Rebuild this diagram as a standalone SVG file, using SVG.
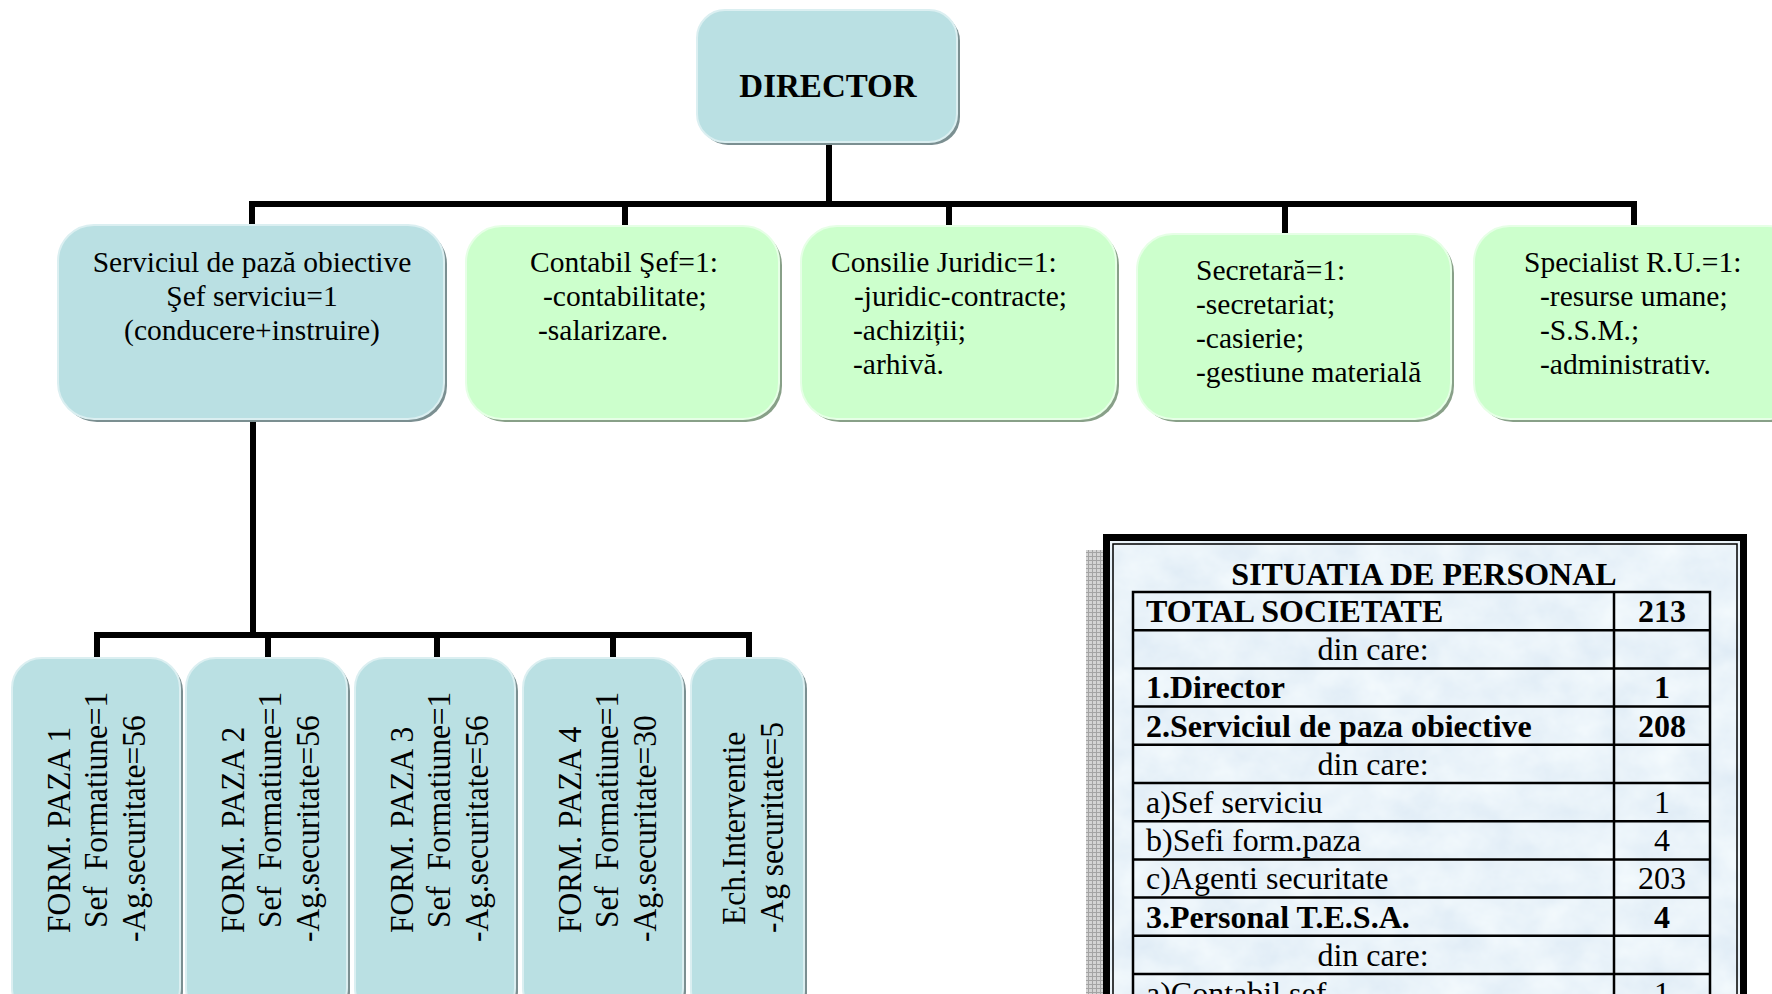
<svg xmlns="http://www.w3.org/2000/svg" width="1772" height="994" viewBox="0 0 1772 994">
<style>
.b{fill:#BAE0E3;stroke:#dbeff1;stroke-width:2}
.g{fill:#CCFFCC;stroke:#e6ffe6;stroke-width:2}
.sb{fill:#7b8f91}
.sg{fill:#88a088}
.t{font-family:"Liberation Serif","Times New Roman",serif;font-size:29.5px;fill:#000}
.v{font-family:"Liberation Serif","Times New Roman",serif;font-size:31.5px;fill:#000}
.tb{font-family:"Liberation Serif","Times New Roman",serif;font-size:32px;fill:#000}
.bd{font-weight:bold}
.m{text-anchor:middle}
.c{stroke:#000;stroke-width:6;fill:none;stroke-linejoin:miter}
.grid{stroke:#000;stroke-width:2.5;fill:none}
</style>
<defs>
<filter id="marble" x="0" y="0" width="100%" height="100%">
<feTurbulence type="fractalNoise" baseFrequency="0.025 0.03" numOctaves="4" seed="7"/>
<feColorMatrix type="matrix" values="0.2 0 0 0 0.72  0.15 0 0 0 0.82  0.08 0 0 0 0.91  0 0 0 0 1"/>
</filter>
<pattern id="hatch" width="4" height="4" patternUnits="userSpaceOnUse">
<rect width="4" height="4" fill="#d4d4d4"/>
<path d="M0 0.5H4M0.5 0V4" stroke="#a4a4a4" stroke-width="1"/>
</pattern>
</defs>

<g id="connectors">
<path class="c" d="M829 145V204"/>
<path class="c" d="M252 226V204H1634V226"/>
<path class="c" d="M625 204V226"/>
<path class="c" d="M949 204V226"/>
<path class="c" d="M1285 204V234"/>
<path class="c" d="M253 422V635"/>
<path class="c" d="M97 659V635H749V659"/>
<path class="c" d="M268 635V659"/>
<path class="c" d="M437 635V659"/>
<path class="c" d="M613 635V659"/>
</g>

<g id="director">
<rect class="sb" x="700" y="13" width="260" height="132" rx="28"/>
<rect class="b" x="697" y="10" width="260" height="132" rx="28"/>
<text class="t bd m" x="828" y="97" style="font-size:33px">DIRECTOR</text>
</g>

<g id="serviciu">
<rect class="sb" x="61" y="228" width="386" height="194" rx="36"/>
<rect class="b" x="58" y="225" width="386" height="194" rx="36"/>
<text class="t m" x="252" y="272">Serviciul de pază obiective</text>
<text class="t m" x="252" y="306">Şef serviciu=1</text>
<text class="t m" x="252" y="340">(conducere+instruire)</text>
</g>

<g id="contabil">
<rect class="sg" x="469" y="229" width="313" height="193" rx="36"/>
<rect class="g" x="466" y="226" width="313" height="193" rx="36"/>
<text class="t" x="530" y="272">Contabil Şef=1:</text>
<text class="t" x="543" y="306">-contabilitate;</text>
<text class="t" x="538" y="340">-salarizare.</text>
</g>

<g id="juridic">
<rect class="sg" x="804" y="229" width="315" height="193" rx="36"/>
<rect class="g" x="801" y="226" width="315" height="193" rx="36"/>
<text class="t" x="831" y="272">Consilie Juridic=1:</text>
<text class="t" x="854" y="306">-juridic-contracte;</text>
<text class="t" x="853" y="340">-achiziții;</text>
<text class="t" x="853" y="374">-arhivă.</text>
</g>

<g id="secretara">
<rect class="sg" x="1140" y="237" width="314" height="185" rx="36"/>
<rect class="g" x="1137" y="234" width="314" height="185" rx="36"/>
<text class="t" x="1196" y="280">Secretară=1:</text>
<text class="t" x="1196" y="314">-secretariat;</text>
<text class="t" x="1196" y="348">-casierie;</text>
<text class="t" x="1196" y="382">-gestiune materială</text>
</g>

<g id="specialist">
<rect class="sg" x="1477" y="229" width="330" height="193" rx="36"/>
<rect class="g" x="1474" y="226" width="330" height="193" rx="36"/>
<text class="t" x="1524" y="272">Specialist R.U.=1:</text>
<text class="t" x="1540" y="306">-resurse umane;</text>
<text class="t" x="1540" y="340">-S.S.M.;</text>
<text class="t" x="1540" y="374">-administrativ.</text>
</g>

<g id="form1">
<rect class="sb" x="15" y="661" width="168" height="360" rx="30"/>
<rect class="b" x="12" y="658" width="168" height="360" rx="30"/>
<text class="v" transform="translate(70 933) rotate(-90) scale(1 1.08)">FORM. PAZA 1</text>
<text class="v" xml:space="preserve" transform="translate(107 928) rotate(-90) scale(1 1.08)">Sef  Formatiune=1</text>
<text class="v" transform="translate(145 942) rotate(-90) scale(1 1.08)">-Ag.securitate=56</text>
</g>

<g id="form2">
<rect class="sb" x="189" y="661" width="161" height="360" rx="30"/>
<rect class="b" x="186" y="658" width="161" height="360" rx="30"/>
<text class="v" transform="translate(244 933) rotate(-90) scale(1 1.08)">FORM. PAZA 2</text>
<text class="v" xml:space="preserve" transform="translate(281 928) rotate(-90) scale(1 1.08)">Sef  Formatiune=1</text>
<text class="v" transform="translate(319 942) rotate(-90) scale(1 1.08)">-Ag.securitate=56</text>
</g>

<g id="form3">
<rect class="sb" x="358" y="661" width="160" height="360" rx="30"/>
<rect class="b" x="355" y="658" width="160" height="360" rx="30"/>
<text class="v" transform="translate(413 933) rotate(-90) scale(1 1.08)">FORM. PAZA 3</text>
<text class="v" xml:space="preserve" transform="translate(450 928) rotate(-90) scale(1 1.08)">Sef  Formatiune=1</text>
<text class="v" transform="translate(488 942) rotate(-90) scale(1 1.08)">-Ag.securitate=56</text>
</g>

<g id="form4">
<rect class="sb" x="526" y="661" width="160" height="360" rx="30"/>
<rect class="b" x="523" y="658" width="160" height="360" rx="30"/>
<text class="v" transform="translate(581 933) rotate(-90) scale(1 1.08)">FORM. PAZA 4</text>
<text class="v" xml:space="preserve" transform="translate(618 928) rotate(-90) scale(1 1.08)">Sef  Formatiune=1</text>
<text class="v" transform="translate(656 942) rotate(-90) scale(1 1.08)">-Ag.securitate=30</text>
</g>

<g id="interventie">
<rect class="sb" x="694" y="661" width="113" height="360" rx="28"/>
<rect class="b" x="691" y="658" width="113" height="360" rx="28"/>
<text class="v" transform="translate(745 925) rotate(-90) scale(1 1.08)">Ech.Interventie</text>
<text class="v" transform="translate(783 933) rotate(-90) scale(1 1.08)">-Ag securitate=5</text>
</g>

<g id="situatia">
<rect x="1086" y="550" width="17" height="460" fill="url(#hatch)"/>
<rect x="1106.5" y="537.5" width="637" height="480" fill="#d6e5f3"/>
<rect x="1106.5" y="537.5" width="637" height="480" filter="url(#marble)"/>
<rect x="1106.5" y="537.5" width="637" height="480" fill="none" stroke="#000" stroke-width="7"/>
<rect x="1113" y="544" width="624" height="480" fill="none" stroke="#000" stroke-width="1.5"/>
<text class="tb bd m" x="1424" y="585">SITUATIA DE PERSONAL</text>
<path class="grid" d="M1133 1000V592H1710V1000M1614 592V1000M1133 630.2H1710M1133 668.4H1710M1133 706.6H1710M1133 744.8H1710M1133 783H1710M1133 821.2H1710M1133 859.4H1710M1133 897.6H1710M1133 935.8H1710M1133 974H1710"/>
<text class="tb bd" x="1146" y="622">TOTAL SOCIETATE</text>
<text class="tb bd m" x="1662" y="622">213</text>
<text class="tb m" x="1373" y="660">din care:</text>
<text class="tb bd" x="1146" y="698">1.Director</text>
<text class="tb bd m" x="1662" y="698">1</text>
<text class="tb bd" x="1146" y="737">2.Serviciul de paza obiective</text>
<text class="tb bd m" x="1662" y="737">208</text>
<text class="tb m" x="1373" y="775">din care:</text>
<text class="tb" x="1146" y="813">a)Sef serviciu</text>
<text class="tb m" x="1662" y="813">1</text>
<text class="tb" x="1146" y="851">b)Sefi form.paza</text>
<text class="tb m" x="1662" y="851">4</text>
<text class="tb" x="1146" y="889">c)Agenti securitate</text>
<text class="tb m" x="1662" y="889">203</text>
<text class="tb bd" x="1146" y="928">3.Personal T.E.S.A.</text>
<text class="tb bd m" x="1662" y="928">4</text>
<text class="tb m" x="1373" y="966">din care:</text>
<text class="tb" x="1146" y="1004">a)Contabil sef</text>
<text class="tb m" x="1662" y="1004">1</text>
</g>
</svg>
